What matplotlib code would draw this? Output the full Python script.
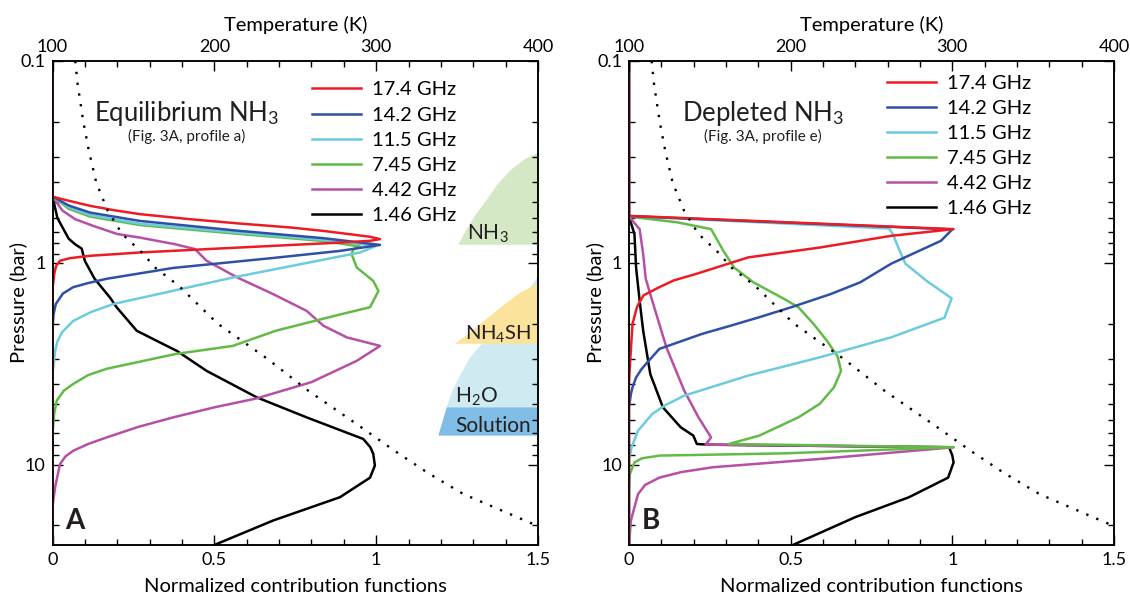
import matplotlib.pyplot as plt
from matplotlib.ticker import LogLocator, NullFormatter, MultipleLocator

plt.rcParams['font.family'] = ['Lato', 'DejaVu Sans']
plt.rcParams['mathtext.fontset'] = 'custom'
plt.rcParams['mathtext.rm'] = 'Lato'
plt.rcParams['mathtext.it'] = 'Lato:italic'
plt.rcParams['mathtext.bf'] = 'Lato:bold'

freqs = ['17.4 GHz', '14.2 GHz', '11.5 GHz', '7.45 GHz', '4.42 GHz', '1.46 GHz']
colors = ['#ed1c24', '#2f50a4', '#6ccbdd', '#62bb46', '#b84fa6', '#000000']

# temperature profile (dotted line, top axis), pressure in bar
temp_p = [0.1, 0.13, 0.2, 0.28, 0.4, 0.55, 0.72, 0.9, 1.05, 1.3, 2.0, 3.0, 4.3, 6.3, 8.5, 11, 14, 20]
temp_k = [114, 115.5, 119, 122.5, 127, 134, 143, 156, 163, 178, 202, 233, 258, 288, 311, 332, 354, 399]

# panel A: equilibrium NH3 -- normalized contribution functions
a_174_p = [0.1, 0.47, 0.484, 0.522, 0.548, 0.574, 0.608, 0.639, 0.668, 0.695, 0.722, 0.743, 0.763,
           0.778, 0.794, 0.824, 0.855, 0.889, 0.923, 0.948, 0.977, 1.035, 1.14, 1.35, 25]
a_174_x = [0, 0, 0.03, 0.116, 0.188, 0.27, 0.425, 0.579, 0.734, 0.837, 0.92, 0.981, 1.012,
           0.981, 0.888, 0.682, 0.48, 0.27, 0.116, 0.054, 0.023, 0.011, 0.005, 0, 0]
a_142_p = [0.1, 0.47, 0.52, 0.564, 0.62, 0.695, 0.755, 0.815, 0.873, 0.946, 1.06, 1.2, 1.26,
           1.32, 1.42, 1.6, 1.8, 2.1, 25]
a_142_x = [0, 0, 0.05, 0.116, 0.27, 0.579, 0.837, 1.012, 0.888, 0.682, 0.373, 0.167, 0.11,
           0.064, 0.032, 0.01, 0.003, 0, 0]
a_115_p = [0.1, 0.47, 0.53, 0.58, 0.64, 0.71, 0.77, 0.824, 0.889, 1.18, 1.6, 1.75, 1.94, 2.2,
           2.45, 2.73, 3.5, 25]
a_115_x = [0, 0, 0.05, 0.116, 0.27, 0.579, 0.837, 1.0, 0.95, 0.56, 0.188, 0.12, 0.064, 0.03,
           0.015, 0.008, 0, 0]
a_745_p = [0.1, 0.47, 0.54, 0.59, 0.65, 0.72, 0.78, 0.83, 0.855, 0.906, 1.055, 1.23, 1.38, 1.66,
           1.8, 2.17, 2.58, 2.83, 3.35, 3.6, 3.98, 4.3, 4.82, 5.6, 7, 25]
a_745_x = [0, 0, 0.05, 0.116, 0.27, 0.579, 0.837, 0.95, 0.93, 0.924, 0.94, 0.991, 1.007, 0.981,
           0.89, 0.69, 0.557, 0.38, 0.167, 0.11, 0.064, 0.035, 0.013, 0.005, 0, 0]
a_442_p = [0.1, 0.47, 0.55, 0.608, 0.66, 0.72, 0.75, 0.81, 0.855, 0.977, 1.18, 1.43, 1.73, 2.05,
           2.34, 2.58, 3.06, 3.9, 4.7, 5.2, 5.83, 6.5, 7.33, 7.9, 8.53, 9.1, 9.93, 12.9, 16, 25]
a_442_x = [0, 0, 0.03, 0.07, 0.13, 0.2, 0.27, 0.38, 0.44, 0.476, 0.57, 0.682, 0.785, 0.837,
           0.909, 1.012, 0.94, 0.8, 0.63, 0.5, 0.373, 0.265, 0.167, 0.11, 0.064, 0.04, 0.023,
           0.008, 0, 0]
a_146_p = [0.1, 0.47, 0.6, 0.76, 0.81, 0.85, 0.98, 1.2, 1.49, 1.66, 2.17, 2.58, 2.73, 3.43, 4.64,
           5.83, 7.46, 8.2, 8.85, 10.1, 11.6, 14.5, 18.9, 25]
a_146_x = [0, 0, 0.015, 0.05, 0.07, 0.09, 0.1, 0.13, 0.178, 0.198, 0.26, 0.353, 0.384, 0.476,
           0.631, 0.785, 0.96, 0.982, 0.991, 0.996, 0.981, 0.888, 0.682, 0.5]

# panel B: depleted NH3
b_174_p = [0.1, 0.585, 0.681, 0.735, 0.84, 0.94, 1.14, 1.22, 1.32, 1.45, 1.65, 2.01, 3.2, 4, 25]
b_174_x = [0, 0, 1.004, 0.811, 0.59, 0.369, 0.204, 0.14, 0.094, 0.045, 0.025, 0.011, 0.003, 0, 0]
b_142_p = [0.1, 0.587, 0.683, 0.778, 1.01, 1.25, 1.43, 1.66, 1.86, 2.05, 2.25, 2.67, 3.06, 3.36,
           3.7, 4.14, 4.47, 5.2, 25]
b_142_x = [0, 0, 1.0, 0.965, 0.811, 0.715, 0.623, 0.502, 0.403, 0.314, 0.226, 0.094, 0.061,
           0.039, 0.022, 0.011, 0.006, 0, 0]
b_115_p = [0.1, 0.587, 0.676, 0.721, 0.84, 1.01, 1.23, 1.5, 1.87, 2.34, 2.94, 3.62, 4.55, 5.1,
           5.61, 6.79, 8.2, 9.5, 25]
b_115_x = [0, 0, 0.805, 0.816, 0.833, 0.855, 0.921, 0.998, 0.976, 0.811, 0.59, 0.369, 0.171, 0.11,
           0.072, 0.028, 0.008, 0, 0]
b_745_p = [0.1, 0.59, 0.63, 0.681, 0.872, 1.055, 1.25, 1.51, 1.66, 2.0, 2.43, 2.9, 3.43, 4.14,
           5.0, 5.83, 7.18, 7.9, 8.2, 8.79, 9.02, 9.3, 9.75, 11.1, 13, 25]
b_745_x = [0, 0, 0.149, 0.254, 0.292, 0.325, 0.385, 0.48, 0.524, 0.57, 0.612, 0.645, 0.656, 0.634,
           0.59, 0.524, 0.403, 0.309, 1.004, 0.48, 0.094, 0.04, 0.017, 0.003, 0, 0]
b_442_p = [0.1, 0.59, 0.681, 0.906, 1.2, 1.54, 2.63, 4.3, 5.83, 7.33, 7.96, 8.2, 9.37, 10.3,
           10.9, 11.6, 12.6, 14, 18.9, 25]
b_442_x = [0, 0, 0.033, 0.044, 0.052, 0.072, 0.116, 0.171, 0.215, 0.254, 0.237, 1.004, 0.59,
           0.259, 0.16, 0.094, 0.05, 0.028, 0.006, 0]
b_146_p = [0.1, 0.59, 0.721, 1.055, 1.54, 2.17, 3.56, 5.2, 6.53, 7.18, 7.9, 7.96, 8.2, 9.0,
           9.75, 11.6, 14.5, 18.2, 25]
b_146_x = [0, 0, 0.017, 0.022, 0.033, 0.044, 0.066, 0.105, 0.16, 0.199, 0.21, 0.243, 0.99, 1.0,
           1.004, 0.987, 0.866, 0.70, 0.507]

# cloud layers drawn in panel A
nh3_x = [1.5, 1.46, 1.419, 1.376, 1.339, 1.305, 1.277, 1.253, 1.5]
nh3_p = [0.285, 0.306, 0.343, 0.406, 0.493, 0.585, 0.695, 0.814, 0.814]
h2o_x = [1.5, 1.48, 1.44, 1.38, 1.321, 1.29, 1.259, 1.235, 1.218, 1.5]
h2o_p = [1.16, 1.3, 1.6, 2.0, 2.58, 2.95, 3.62, 4.3, 5.2, 5.2]
nh4sh_x = [1.5, 1.444, 1.398, 1.342, 1.29, 1.243, 1.5]
nh4sh_p = [1.26, 1.41, 1.6, 1.89, 2.22, 2.52, 2.52]
sol_x = [1.5, 1.218, 1.192, 1.5]
sol_p = [5.2, 5.2, 7.18, 7.18]

panel_a = [(a_174_x, a_174_p), (a_142_x, a_142_p), (a_115_x, a_115_p),
           (a_745_x, a_745_p), (a_442_x, a_442_p), (a_146_x, a_146_p)]
panel_b = [(b_174_x, b_174_p), (b_142_x, b_142_p), (b_115_x, b_115_p),
           (b_745_x, b_745_p), (b_442_x, b_442_p), (b_146_x, b_146_p)]


def draw_panel(ax, curves, title, note, letter, leg_x, leg_y):
    handles = [None] * len(curves)
    # black first so red ends up on top
    for i in reversed(range(len(curves))):
        x, p = curves[i]
        handles[i], = ax.plot(x, p, color=colors[i], lw=1.8, zorder=3,
                              solid_joinstyle='round')

    ax.set_yscale('log')
    ax.set_ylim(25, 0.1)
    ax.set_xlim(0, 1.5)
    ax.set_yticks([0.1, 1, 10])
    ax.set_yticklabels(['0.1', '1', '10'])
    ax.yaxis.set_minor_locator(LogLocator(base=10, subs=range(2, 10)))
    ax.yaxis.set_minor_formatter(NullFormatter())
    ax.set_xticks([0, 0.5, 1, 1.5])
    ax.set_xticklabels(['0', '0.5', '1', '1.5'])
    ax.xaxis.set_minor_locator(MultipleLocator(0.1))
    ax.tick_params(which='both', direction='in', right=True, width=1, labelsize=13, pad=5)
    ax.tick_params(which='major', length=7)
    ax.tick_params(which='minor', length=4)
    for s in ax.spines.values():
        s.set_linewidth(1.1)

    ax.set_xlabel('Normalized contribution functions', fontsize=14.5)
    ax.xaxis.set_label_coords(0.5, -0.068)
    ax.set_ylabel('Pressure (bar)', fontsize=14.5)
    ax.yaxis.set_label_coords(-0.052, 0.5)

    # temperature axis on top
    ax2 = ax.twiny()
    ax2.plot(temp_k, temp_p, color='black', lw=1.7, linestyle=(0, (1, 3.6)))
    ax2.set_xlim(100, 400)
    ax2.set_xticks([100, 200, 300, 400])
    ax2.xaxis.set_minor_locator(MultipleLocator(20))
    ax2.tick_params(which='both', direction='in', width=1, labelsize=13, pad=4)
    ax2.tick_params(which='major', length=7)
    ax2.tick_params(which='minor', length=4)
    ax2.set_xlabel('Temperature (K)', fontsize=14.5)
    ax2.xaxis.set_label_coords(0.5, 1.062)
    for s in ax2.spines.values():
        s.set_linewidth(1.1)

    ax.legend(handles, freqs, loc='upper left', bbox_to_anchor=(leg_x, leg_y),
              frameon=False, fontsize=14.5, handlelength=2.4, handletextpad=0.55,
              labelspacing=0.4, borderpad=0, borderaxespad=0)

    ax.text(0.277, 0.877, title, transform=ax.transAxes, ha='center',
            va='baseline', fontsize=18.5, color='#231f20')
    ax.text(0.277, 0.834, note, transform=ax.transAxes, ha='center',
            va='baseline', fontsize=11, color='#231f20')
    ax.text(0.045, 0.05, letter, transform=ax.transAxes, ha='center',
            va='center', fontsize=20, fontweight='bold', color='#231f20')
    return ax2


fig = plt.figure(figsize=(11.3, 5.99), dpi=100)
ax_a = fig.add_axes([0.0465, 0.0902, 0.4296, 0.808])
ax_b = fig.add_axes([0.5566, 0.0902, 0.4292, 0.808])

# clouds
ax_a.fill(nh3_x, nh3_p, color='#d5e8c5', lw=0, zorder=1)
ax_a.fill(h2o_x, h2o_p, color='#cfeaf1', lw=0, zorder=1)
ax_a.fill(nh4sh_x, nh4sh_p, color='#fce39c', lw=0, zorder=1)
ax_a.fill(sol_x, sol_p, color='#80bde6', lw=0, zorder=1)
ax_a.text(1.28, 0.72, 'NH$_3$', fontsize=15, va='center', color='#231f20')
ax_a.text(1.275, 2.24, 'NH$_4$SH', fontsize=14.5, va='center', color='#231f20')
ax_a.text(1.243, 4.64, 'H$_2$O', fontsize=15, va='center', color='#231f20')
ax_a.text(1.243, 6.4, 'Solution', fontsize=15, va='center', color='#231f20')

draw_panel(ax_a, panel_a, 'Equilibrium NH$_3$', '(Fig. 3A, profile a)', 'A', 0.535, 0.958)
draw_panel(ax_b, panel_b, 'Depleted NH$_3$', '(Fig. 3A, profile e)', 'B', 0.533, 0.972)

plt.savefig('out.png', dpi=100)
